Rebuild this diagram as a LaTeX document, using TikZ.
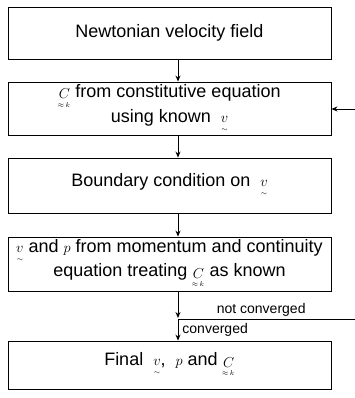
\documentclass[tikz,border=0pt]{standalone}
\usepackage{amsmath}
\usepackage{fontspec}
\setmainfont{Liberation Sans}
\usetikzlibrary{arrows.meta,calc}

% small symbols as printed in the chart
\newcommand{\tensC}{{\fontsize{14.5}{14.5}\selectfont$\mathop{C}\limits_{\scriptscriptstyle\approx\,k}$}}
\newcommand{\vecv}{{\fontsize{14.5}{14.5}\selectfont$\underset{\scriptscriptstyle\sim}{v}$}}
\newcommand{\smp}{{\fontsize{15}{15}\selectfont$p$}}

\begin{document}
\begin{tikzpicture}[x=1pt, y=-1pt,
    box/.style={draw, line width=0.9pt, minimum width=323pt, inner sep=1pt,
                align=center, font=\fontsize{18}{21}\selectfont},
    flow/.style={line width=0.9pt, -{Stealth[length=6pt, width=5pt]}},
    tag/.style={font=\fontsize{14}{16}\selectfont, inner sep=1pt}]

            \useasboundingbox (0,0) rectangle (355,398);

            % Boxes of the iteration
            \node[box, minimum height=52pt] (newt) at (169.5,33) {Newtonian velocity field};
            \node[box, minimum height=53pt] (const) at (169.5,108.5) {\tensC{} from constitutive equation\\ using known \;\vecv};
            \node[box, minimum height=55pt] (bc) at (169.5,185.5) {Boundary condition on \;\vecv};
            \node[box, minimum height=54pt] (mom) at (169.5,264) {\vecv{} and \smp{} from momentum and continuity\\ equation treating \tensC{} as known};
            \node[box, minimum height=48pt] (final) at (169.5,365) {Final \;\vecv,\; \smp{} and \tensC};

            % Spine and feedback points
            \coordinate (spine) at (178,0);
            \coordinate (split) at (178,319);
            \coordinate (loopout) at (355,319); % goes back to C_k
            \coordinate (loopin) at (355,109);

            \draw[flow] (spine |- newt.south) -- (spine |- const.north);
            \draw[flow] (spine |- const.south) -- (spine |- bc.north);
            \draw[flow] (spine |- bc.south) -- (spine |- mom.north);
            \draw[flow] (spine |- mom.south) -- ($(split)+(0,-1)$);
            \draw[flow] (split) -- (spine |- final.north) node[tag, midway, right=3pt] {converged};
            \draw[line width=0.9pt] (split) -- (loopout) node[tag, pos=0.47, above=1pt] {not converged};
            \draw[flow] (loopin) -- (loopin -| const.east);

        \end{tikzpicture}
\end{document}
